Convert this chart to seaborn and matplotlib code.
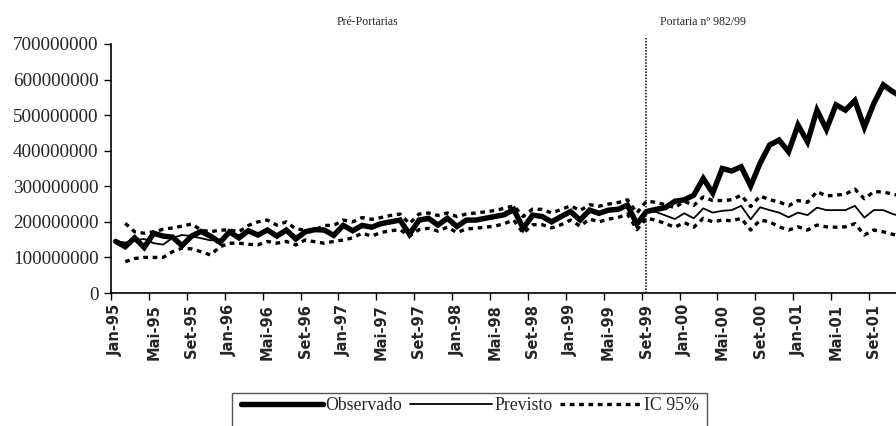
import numpy as np
import pandas as pd
import matplotlib
matplotlib.use("Agg")
import matplotlib.pyplot as plt
import seaborn as sns
from matplotlib.patches import Rectangle

# ---- data (values in millions of reais) ----
observed = [145, 130, 155, 128, 168, 160, 157, 133, 160, 173, 160, 142,
            172, 155, 175, 163, 177, 160, 177, 152, 172, 178, 177, 162,
            190, 175, 190, 185, 195, 200, 205, 165, 205, 210, 191, 210,
            187, 205, 205, 210, 215, 220, 235, 182, 219, 215, 200, 215,
            229, 205, 233, 224, 233, 235, 247, 194, 229, 235, 240, 258,
            262, 275, 322, 281, 350, 343, 355, 301, 365, 416, 430, 397,
            472, 425, 514, 460, 529, 514, 541, 466, 533, 585, 566, 550]
predicted = [145, 142, 148, 152, 140, 136, 155, 163, 160, 154, 148, 150,
             165, 162, 170, 168, 172, 165, 172, 160, 170, 176, 175, 168,
             185, 178, 188, 185, 192, 198, 202, 172, 200, 205, 196, 207,
             192, 203, 205, 208, 212, 218, 228, 190, 216, 215, 205, 215,
             226, 210, 230, 224, 230, 234, 243, 200, 232, 228, 218, 208,
             224, 210, 238, 226, 231, 233, 245, 207, 241, 233, 226, 213,
             226, 219, 240, 233, 233, 233, 245, 212, 233, 233, 222, 215]
ic_upper = [np.nan, 196, 172, 168, 172, 179, 183, 188, 194, 177, 172, 177,
            177, 172, 190, 200, 205, 191, 200, 180, 177, 177, 190, 190,
            205, 200, 212, 207, 212, 218, 222, 195, 222, 225, 218, 225,
            215, 222, 225, 228, 232, 238, 245, 215, 236, 235, 225, 235,
            245, 232, 248, 244, 250, 254, 262, 225, 258, 255, 248, 240,
            258, 246, 270, 260, 260, 262, 275, 243, 273, 262, 256, 245,
            260, 255, 285, 273, 275, 278, 292, 265, 285, 284, 278, 272]
ic_lower = [np.nan, 88, 97, 100, 100, 100, 116, 126, 124, 116, 107, 130,
            140, 140, 137, 135, 145, 140, 145, 135, 149, 144, 140, 145,
            149, 155, 168, 160, 170, 175, 178, 160, 178, 182, 174, 185,
            170, 180, 182, 185, 188, 195, 205, 168, 192, 192, 183, 192,
            205, 188, 208, 200, 208, 212, 222, 178, 210, 205, 195, 185,
            198, 185, 210, 200, 205, 203, 210, 177, 205, 200, 186, 177,
            186, 177, 191, 186, 185, 186, 195, 163, 177, 172, 165, 160]
tick_labels = ["Jan-95", "Mai-95", "Set-95", "Jan-96", "Mai-96", "Set-96",
               "Jan-97", "Mai-97", "Set-97", "Jan-98", "Mai-98", "Set-98",
               "Jan-99", "Mai-99", "Set-99", "Jan-00", "Mai-00", "Set-00",
               "Jan-01", "Mai-01", "Set-01"]
intervention_index = 56  # Set-99
scale = 1_000_000

df = pd.DataFrame({
    "mes": np.arange(len(observed)),
    "Observado": np.array(observed, dtype=float) * scale,
    "Previsto": np.array(predicted, dtype=float) * scale,
    "sup": np.array(ic_upper, dtype=float) * scale,
    "inf": np.array(ic_lower, dtype=float) * scale,
})

sns.set_theme(style="white")
plt.rcParams["font.family"] = ["Liberation Serif", "DejaVu Serif"]

W, H = 896, 426
fig = plt.figure(figsize=(W / 100, H / 100), dpi=100)
ax = fig.add_axes([111 / W, 1 - 293 / H, (907 - 111) / W, (293 - 44) / H])

dash = (0, (1.4, 1.4))
sns.lineplot(data=df, x="mes", y="sup", ax=ax, color="black", lw=2.4,
             linestyle=dash, dash_capstyle="butt", estimator=None)
sns.lineplot(data=df, x="mes", y="inf", ax=ax, color="black", lw=2.4,
             linestyle=dash, dash_capstyle="butt", estimator=None)
sns.lineplot(data=df, x="mes", y="Previsto", ax=ax, color="black", lw=1.3,
             estimator=None)
sns.lineplot(data=df, x="mes", y="Observado", ax=ax, color="black", lw=3.9,
             estimator=None, solid_joinstyle="miter")

n = len(observed)
ax.set_xlim(-0.5, n - 0.5)
ax.set_ylim(0, 700 * scale)
ax.set_xlabel("")
ax.set_ylabel("")

# y axis
yt = np.arange(0, 701, 100) * scale
ax.set_yticks(yt)
ax.set_yticklabels([f"{int(v)}" for v in yt], fontsize=13.8)
ax.tick_params(axis="y", direction="out", length=5, width=1, color="black",
               left=True, pad=4)

# x axis: tick marks at category boundaries, labels at category centres
label_pos = np.arange(0, n, 4)
ax.set_xticks(label_pos - 0.5)
ax.set_xticklabels([])
ax.set_xticks(label_pos, minor=True)
ax.set_xticklabels(tick_labels, minor=True, rotation=90, fontsize=10.5,
                   fontweight="bold", family="DejaVu Sans", va="top")
ax.tick_params(axis="x", which="major", direction="out", length=5, width=1,
               color="black", bottom=True)
ax.tick_params(axis="x", which="minor", length=0, pad=8)

for s in ["top", "right"]:
    ax.spines[s].set_visible(False)
for s in ["left", "bottom"]:
    ax.spines[s].set_color("black")
    ax.spines[s].set_linewidth(1.2)

# intervention line
ax.axvline(intervention_index, ymin=0, ymax=(293 - 38) / (293 - 44),
           color="black", lw=1.1, linestyle=(0, (1, 1)), clip_on=False)

fig.text(367 / W, 1 - 22 / H, "Pré-Portarias", ha="center", va="center",
         fontsize=8.5)
fig.text(703 / W, 1 - 22 / H, "Portaria nº 982/99", ha="center",
         va="center", fontsize=8.5)

# legend
lines = ax.get_lines()
h_obs = lines[3]
h_prev = lines[2]
h_ic = lines[0]
leg = fig.legend([h_obs, h_prev, h_ic], ["Observado", "Previsto", "IC 95%"],
                 loc="center left", bbox_to_anchor=(229 / W, 1 - 406 / H),
                 ncol=3, frameon=False, handlelength=4.6, handletextpad=0.12,
                 columnspacing=0.45, fontsize=12.8, borderpad=0.2)
fig.patches.append(Rectangle((232 / W, 1 - 440 / H), (707 - 232) / W,
                             (440 - 393) / H, transform=fig.transFigure,
                             fill=False, edgecolor="#555555", lw=1.0))

fig.savefig("out.png", dpi=100)
